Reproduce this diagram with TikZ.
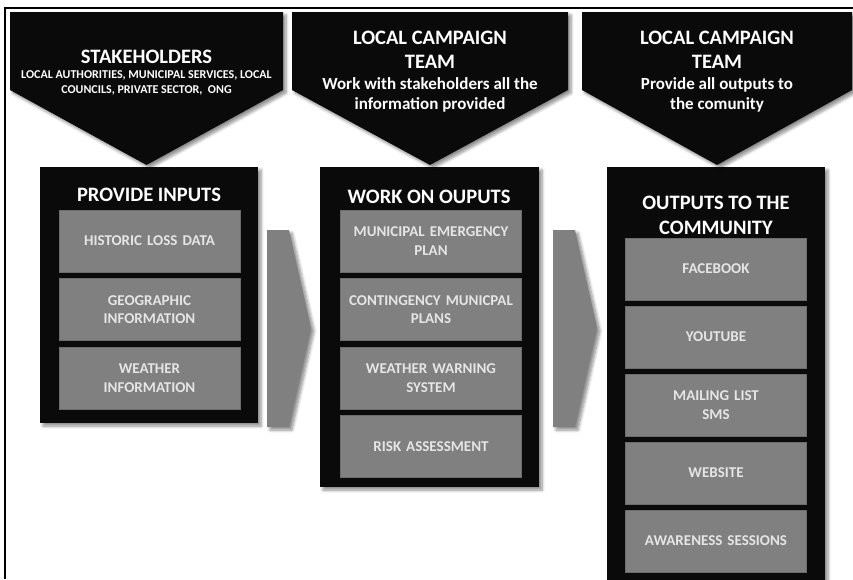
\documentclass[tikz,border=0pt]{standalone}
\usepackage{fontspec}
\setmainfont{Carlito}
\usetikzlibrary{positioning}
\usetikzlibrary{shadows.blur}
\usepackage{xcolor}

\tikzset{
  soft/.style={blur shadow={shadow xshift=3pt,shadow yshift=-3pt,shadow blur steps=6,shadow blur radius=3pt,shadow opacity=45}},
  header/.style={fill=black!96,soft},
  column/.style={fill=black!96,soft,inner sep=0pt,outer sep=0pt},
  item/.style={fill=gray,draw=gray!85!black,line width=0.6pt,minimum width=181pt,minimum height=62pt,
    text width=178pt,align=center,inner sep=0pt,outer sep=0pt,
    font=\fontsize{15}{18.5}\selectfont\bfseries,text=white!90!black},
  title/.style={text=white,align=center,inner sep=0pt,font=\fontsize{20.5}{24.5}\selectfont\bfseries},
  note/.style={text=white,align=center,inner sep=0pt,font=\fontsize{17}{20.5}\selectfont\bfseries},
  arrowbox/.style={fill=gray,soft}
}

\begin{document}
\begin{tikzpicture}[x=1pt,y=-1pt]
\useasboundingbox (0,0) rectangle (853,579);
\clip (0,0) rectangle (853,579);
\draw[line width=1.2pt] (5,579) -- (5,8) -- (853,8);

\node[column,minimum width=218pt,minimum height=256pt] (inputs) at (149,295) {};
\node[column,minimum width=219pt,minimum height=320pt] (work) at (429.5,327) {};
\node[column,minimum width=218pt,minimum height=423pt] (community) at (716,378.5) {};

\foreach \l/\r in {10/283,292/568,582/852}
  \fill[header] (\l,12) -- (\r,12) -- (\r,90) -- ({(\l+\r)/2},165) -- (\l,90) -- cycle;

\foreach \a in {267,553}
  \fill[arrowbox] (\a,230) -- (\a+22,230) -- (\a+44,328) -- (\a+22,427) -- (\a,427) -- cycle;

\node[title] (stake) at (146.5,57) {STAKEHOLDERS};
\node[text=white,align=center,inner sep=0pt,font=\fontsize{12}{15}\selectfont\bfseries] (stakelist) at (146.5,83)
  {LOCAL AUTHORITIES, MUNICIPAL SERVICES, LOCAL\\COUNCILS, PRIVATE SECTOR,~ ONG};
\node[title] (teamA) at (430,50) {LOCAL CAMPAIGN\\TEAM};
\node[note] (teamAnote) at (430,95) {Work with stakeholders all the\\information provided};
\node[title] (teamB) at (717,50) {LOCAL CAMPAIGN\\TEAM};
\node[note] (teamBnote) at (717,95) {Provide all outputs to\\the comunity};

\node[title] (inputsT) at (149,195) {PROVIDE INPUTS};
\node[item] (loss) at (149.5,241) {HISTORIC LOSS DATA};
\node[item,below=6.5pt of loss] (geo) {GEOGRAPHIC\\INFORMATION};
\node[item,below=6.5pt of geo] (weather) {WEATHER\\INFORMATION};

\node[title] (workT) at (429,197) {WORK ON OUPUTS};
\node[item] (emergency) at (431,241) {MUNICIPAL EMERGENCY\\PLAN};
\node[item,below=6.5pt of emergency] (contingency) {CONTINGENCY MUNICPAL\\PLANS};
\node[item,below=6.5pt of contingency] (warning) {WEATHER WARNING\\SYSTEM};
\node[item,below=6.5pt of warning] (risk) {RISK ASSESSMENT};

\node[title] (communityT) at (716,215.5) {OUTPUTS TO THE\\COMMUNITY};
\node[item] (facebook) at (716,269) {FACEBOOK};
\node[item,below=6pt of facebook] (youtube) {YOUTUBE};
\node[item,below=6pt of youtube] (mailing) {MAILING LIST\\SMS};
\node[item,below=6pt of mailing] (website) {WEBSITE};
\node[item,below=6pt of website] (awareness) {AWARENESS SESSIONS};

\end{tikzpicture}
\end{document}
